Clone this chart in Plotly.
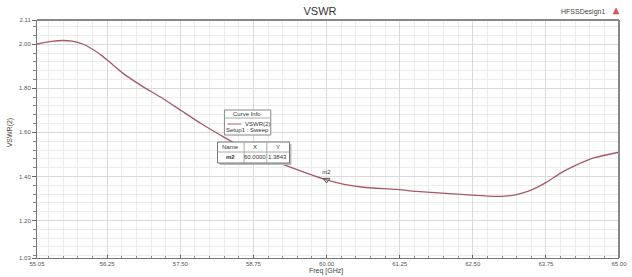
import plotly.graph_objects as go

# ---- data ----
freq_ghz = [55.05, 55.30, 55.49, 55.65, 55.83, 56.00, 56.17, 56.34, 56.51, 56.84, 57.18, 57.52,
            57.86, 58.26, 58.65, 59.21, 59.67, 60.00, 60.30, 60.63, 61.19, 61.53, 62.04,
            62.55, 62.85, 63.05, 63.25, 63.45, 63.75, 64.00, 64.24, 64.58, 65.00]
vswr = [2.001, 2.013, 2.017, 2.014, 2.001, 1.977, 1.946, 1.908, 1.870, 1.811, 1.757, 1.698,
        1.639, 1.576, 1.518, 1.459, 1.414, 1.3843, 1.364, 1.351, 1.341, 1.332, 1.323,
        1.314, 1.310, 1.311, 1.318, 1.333, 1.372, 1.415, 1.448, 1.485, 1.510]

x_ticks = [55.05, 56.25, 57.50, 58.75, 60.00, 61.25, 62.50, 63.75, 65.00]
x_ticklabels = ["55.05", "56.25", "57.50", "58.75", "60.00", "61.25", "62.50", "63.75", "65.00"]
y_ticks = [1.03, 1.20, 1.40, 1.60, 1.80, 2.00, 2.11]
y_ticklabels = ["1.03", "1.20", "1.40", "1.60", "1.80", "2.00", "2.11"]

marker_name = ["m2"]
marker_x = [60.0000]
marker_y = [1.3843]

FONT = "Liberation Sans"
L, R, T, B = 37, 5, 20, 19
W, H = 632, 277
PW, PH = W - L - R, H - T - B


def px(x):
    return (x - L) / PW


def py(y):
    return (H - B - y) / PH


fig = go.Figure()
fig.add_trace(go.Scatter(x=freq_ghz, y=vswr, mode="lines", line=dict(color="#a65a66", width=1.3,
                         shape="spline", smoothing=0.5), hoverinfo="skip", showlegend=False))
fig.add_trace(go.Scatter(x=marker_x, y=marker_y, mode="markers+text", text=marker_name,
                         textposition="top center", textfont=dict(family=FONT, size=6, color="#333"),
                         marker=dict(symbol="triangle-down-open", size=6, color="#555", line=dict(width=1)),
                         cliponaxis=False, showlegend=False, hoverinfo="skip"))

axis_common = dict(showline=True, linecolor="#777", linewidth=1, mirror=False,
                   tickcolor="#666", ticklabeloverflow="allow",
                   tickfont=dict(family=FONT, size=6, color="#555"),
                   showgrid=True, gridcolor="#dadada", gridwidth=1, zeroline=False)

fig.update_xaxes(range=[55.05, 65.0], tickmode="array", tickvals=x_ticks, ticktext=x_ticklabels,
                 ticks="inside", ticklen=3,
                 minor=dict(tick0=56.25, dtick=0.25, ticks="inside", ticklen=2, tickcolor="#888",
                            showgrid=True, gridcolor="#ececec"),
                 **axis_common)
fig.update_yaxes(range=[1.03, 2.11], tickmode="array", tickvals=y_ticks, ticktext=y_ticklabels,
                 ticks="outside", ticklen=4,
                 minor=dict(tick0=1.20, dtick=0.04, ticks="outside", ticklen=3, tickcolor="#888",
                            showgrid=True, gridcolor="#ececec"),
                 **axis_common)


def ppath(points):
    return "M " + " L ".join("%.4f,%.4f" % (px(a), py(b)) for a, b in points) + " Z"


shapes = [
    # top & right frame
    dict(type="line", xref="paper", yref="paper", x0=0, x1=1, y0=1, y1=1, line=dict(color="#888", width=2)),
    dict(type="line", xref="paper", yref="paper", x0=1, x1=1, y0=0, y1=1, line=dict(color="#888", width=2)),
    # curve info box
    dict(type="rect", xref="paper", yref="paper", x0=px(227), x1=px(274), y0=py(135), y1=py(110),
         fillcolor="white", line=dict(color="#888", width=1)),
    dict(type="line", xref="paper", yref="paper", x0=px(227), x1=px(274), y0=py(118), y1=py(118),
         line=dict(color="#aaa", width=1)),
    dict(type="line", xref="paper", yref="paper", x0=px(230), x1=px(244), y0=py(124), y1=py(124),
         line=dict(color="#a65a66", width=1)),
    # marker table (shadow + box)
    dict(type="rect", xref="paper", yref="paper", x0=px(222), x1=px(295), y0=py(165), y1=py(144),
         fillcolor="#bbb", line=dict(width=0)),
    dict(type="rect", xref="paper", yref="paper", x0=px(220), x1=px(293), y0=py(163), y1=py(142),
         fillcolor="white", line=dict(color="#777", width=1)),
    dict(type="line", xref="paper", yref="paper", x0=px(220), x1=px(293), y0=py(152), y1=py(152),
         line=dict(color="#aaa", width=1)),
    dict(type="line", xref="paper", yref="paper", x0=px(247), x1=px(247), y0=py(163), y1=py(142),
         line=dict(color="#aaa", width=1)),
    dict(type="line", xref="paper", yref="paper", x0=px(270), x1=px(270), y0=py(163), y1=py(142),
         line=dict(color="#aaa", width=1)),
    # small red warning icon next to the design name
    dict(type="path", xref="paper", yref="paper", path=ppath([(621, 14), (627, 14), (624, 8)]),
         fillcolor="#d0606a", line=dict(color="#c0392b", width=0.5)),
]


def txt(x, y, s, size=6, bold=False, color="#333", anchor="center", angle=0):
    return dict(xref="paper", yref="paper", x=px(x), y=py(y), text=("<b>%s</b>" % s) if bold else s,
                showarrow=False, xanchor=anchor, yanchor="middle", textangle=angle,
                font=dict(family=FONT, size=size, color=color))


annotations = [
    txt(250, 114, "Curve Info"),
    txt(246, 124, "VSWR(2)", anchor="left"),
    txt(250, 130, "Setup1 : Sweep"),
    txt(233, 147, "Name"),
    txt(258, 147, "X"),
    txt(281, 147, "Y"),
    txt(233, 157, "m2", bold=True),
    txt(258, 157, "60.0000"),
    txt(281, 157, "1.3843"),
    txt(615, 12, "HFSSDesign1", size=7, color="#444", anchor="right"),
    txt(330, 271, "Freq [GHz]", size=7, color="#444"),
    txt(10, 132, "VSWR(2)", size=7, color="#444", angle=-90),
]

fig.update_layout(
    width=W, height=H, margin=dict(l=L, r=R, t=T, b=B),
    paper_bgcolor="white", plot_bgcolor="white",
    title=dict(text="VSWR", x=320 / W, xanchor="center", y=1 - 11 / H,
               yanchor="middle", font=dict(family=FONT, size=11, color="#333")),
    shapes=shapes, annotations=annotations, showlegend=False, hovermode=False,
)

fig.write_html("out.html", config={"displayModeBar": False, "staticPlot": True},
               post_script="document.body.style.margin='0';document.body.style.overflow='hidden';")
